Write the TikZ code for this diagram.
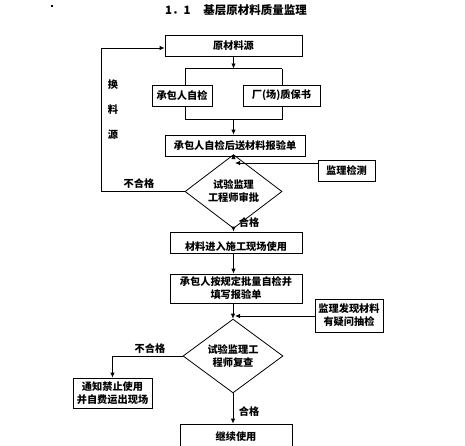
\documentclass[tikz,border=0pt]{standalone}
\usepackage{fontspec}
\newfontfamily\cjk{Noto Sans CJK SC}
\usetikzlibrary{shapes.geometric,arrows.meta}
\begin{document}
\begin{tikzpicture}[x=1pt,y=-1pt,
  font=\cjk\bfseries\fontsize{10.2}{13}\selectfont,
  line width=0.8pt,
  box/.style={draw, inner sep=0pt, align=center, fill=white},
  dia/.style={draw, diamond, inner sep=0pt, align=center},
  arr/.style={-{Latex[length=5pt,width=4.5pt]}},
  lbl/.style={inner sep=0pt}]
\useasboundingbox (0,0) rectangle (465,445);
% title
\node[lbl, font=\cjk\bfseries\fontsize{11.5}{13}\selectfont] (title) at (236,10) {1．1\hspace{1.1em}基层原材料质量监理};
\node[fill=black, inner sep=0pt, minimum size=2pt] (dot) at (52,6) {};
% nodes
\node[box, minimum width=137pt, minimum height=21pt] (src) at (233.5,45.5) {原材料源};
\node[box, minimum width=60pt, minimum height=21pt] (self) at (182,95.5) {承包人自检};
\node[box, minimum width=77pt, minimum height=21pt] (cert) at (281.5,95.5) {厂(场)质保书};
\node[box, minimum width=140pt, minimum height=21pt] (rep1) at (235,145.5) {承包人自检后送材料报验单};
\node[box, minimum width=57pt, minimum height=21pt] (chk) at (346.5,170.5) {监理检测};
\node[dia, minimum width=97pt, minimum height=41pt] (d1) at (233.5,191.5) {试验监理\\工程师审批};
\node[box, minimum width=132pt, minimum height=21pt] (use) at (236,242.5) {};
\node[lbl] (usetxt) at ([yshift=-4pt]use.center) {材料进入施工现场使用};
\node[box, minimum width=132pt, minimum height=29pt] (rep2) at (236,288.5) {承包人按规定批量自检并\\填写报验单};
\node[box, minimum width=68pt, minimum height=33pt] (doubt) at (349,315.5) {监理发现材料\\有疑问抽检};
\node[dia, minimum width=100pt, minimum height=54pt] (d2) at (233,356) {试验监理工\\程师复查};
\node[box, minimum width=79pt, minimum height=30pt] (ban) at (112.5,393) {通知禁止使用\\并自费运出现场};
\node[box, minimum width=112pt, minimum height=26pt] (cont) at (236,437) {继续使用};
% labels
\node[lbl] (ng1) at (139,184) {不合格};
\node[lbl] (hl1) at (113,85) {换};
\node[lbl] (hl2) at (113,110) {料};
\node[lbl] (hl3) at (113,135) {源};
\node[lbl] (ok1) at (249,223) {合格};
\node[lbl] (ng2) at (150,349) {不合格};
\node[lbl] (ok2) at (249,412) {合格};
% coordinates
\coordinate (bt) at (233.5,68.5);
\coordinate (bl) at (185,68.5);
\coordinate (br) at (282,68.5);
\coordinate (bb) at (233.5,119);
\coordinate (bbl) at (185,119);
\coordinate (bbr) at (282,119);
\coordinate (j1) at (235,163);
\coordinate (f1) at (101,191.5);
\coordinate (f2) at (101,48);
\coordinate (j2) at (235,316);
% connectors
\draw[arr] (src.south -| bt) -- (bt);
\draw (bl) -- (br);
\draw (bl) -- (bl |- self.north);
\draw (br) -- (br |- cert.north);
\draw (bbl |- self.south) -- (bbl) -- (bbr) -- (bbr |- cert.south);
\draw[arr] (bb) -- (bb |- rep1.north);
\draw[arr] (rep1.south -| d1.north) -- (d1.north);
\draw[arr] (chk.west |- j1) -- (j1);
\draw[arr] (d1.west) -- (f1) -- (f2) -- (src.west |- f2);
\draw[arr] (d1.south) -- (d1.south |- use.north);
\draw[arr] (use.south -| d1.south) -- (d1.south |- rep2.north);
\draw[arr] (rep2.south -| d2.north) -- (d2.north);
\draw[arr] (doubt.west |- j2) -- (j2);
\draw[arr] (d2.west) -| (ban.north);
\draw[arr] (d2.south) -- (d2.south |- cont.north);
\end{tikzpicture}
\end{document}
